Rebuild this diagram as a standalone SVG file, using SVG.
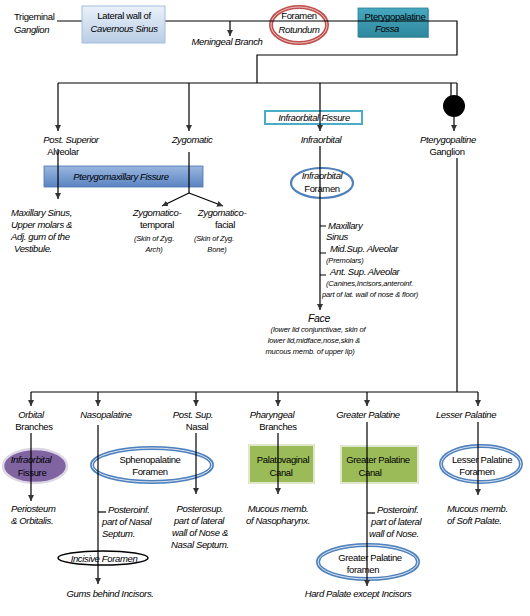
<svg xmlns="http://www.w3.org/2000/svg" width="530" height="616" viewBox="0 0 530 616">
<style>
text{font-family:"Liberation Sans",Arial,sans-serif;font-size:9.5px;letter-spacing:-0.35px;fill:#000;font-style:italic}
.n{font-style:normal}
.s{font-size:7.5px;letter-spacing:-0.15px}
.f{font-size:10.5px}
.c{text-anchor:middle}
.ln{stroke:#000;stroke-width:1.2;fill:none}
.ar{marker-end:url(#ah)}
.be{fill:#fff;stroke:#4f81bd;stroke-width:4}
.bi{fill:none;stroke:#fff;stroke-width:0.8}
.gb{fill:#9bbb59;stroke:#dfe8cc;stroke-width:2}
</style>
<defs>
<marker id="ah" viewBox="0 0 6 6" markerWidth="6" markerHeight="6" markerUnits="userSpaceOnUse" refX="6" refY="3" orient="auto">
<path d="M0,0 L6,3 L0,6 z" fill="#333"/>
</marker>
<linearGradient id="lb" x1="0" y1="0" x2="0" y2="1"><stop offset="0" stop-color="#eaf1fa"/><stop offset="1" stop-color="#b9cde5"/></linearGradient>
<linearGradient id="tl" x1="0" y1="0" x2="0" y2="1"><stop offset="0" stop-color="#46a8bf"/><stop offset="1" stop-color="#2f889e"/></linearGradient>
<linearGradient id="pb" x1="0" y1="0" x2="0" y2="1"><stop offset="0" stop-color="#9ab6df"/><stop offset="1" stop-color="#5a84c2"/></linearGradient>
</defs>

<g id="trigeminal">
<text x="14" y="20" class="n">Trigeminal</text>
<text x="14" y="33">Ganglion</text>
</g>
<g id="foramen-rotundum">
<ellipse cx="299" cy="25" rx="28" ry="18" fill="#fff" stroke="#c0504d" stroke-width="4"/>
<ellipse cx="299" cy="25" rx="28" ry="18" fill="none" stroke="#f2dcdb" stroke-width="0.8"/>
<text x="299" y="19" class="c n">Foramen</text>
<text x="299" y="33" class="c">Rotundum</text>
</g>
<g id="pterygopalatine-fossa">
<rect x="359" y="9" width="70" height="29" fill="#1f6475" opacity="0.5"/>
<rect x="358" y="8" width="70" height="29" fill="url(#tl)" stroke="#2a7f93" stroke-width="0.8"/>
<text x="395" y="20" class="c n">Pterygopalatine</text>
<text x="387" y="32" class="c">Fossa</text>
</g>
<g id="meningeal">
<text x="227" y="45" class="c">Meningeal Branch</text>
</g>
<g id="post-sup-alveolar">
<text x="71" y="143" class="c">Post. Superior</text>
<text x="63" y="155" class="c n">Alveolar</text>
</g>
<g id="pterygomaxillary-fissure">
<rect x="44" y="166" width="159" height="21" fill="url(#pb)" stroke="#4a74b0" stroke-width="0.8"/>
<text x="121" y="180" class="c">Pterygomaxillary Fissure</text>
</g>
<g id="maxillary-sinus">
<text x="11" y="216">Maxillary Sinus,</text>
<text x="11" y="228">Upper molars &amp;</text>
<text x="11" y="240">Adj. gum of the</text>
<text x="14" y="252">Vestibule.</text>
</g>
<g id="zygomatic">
<text x="192" y="143" class="c">Zygomatic</text>
</g>
<g id="zygomatico-temporal">
<text x="157" y="216" class="c">Zygomatico-</text>
<text x="157" y="228" class="c n">temporal</text>
<text x="154" y="241" class="c s">(Skin of Zyg.</text>
<text x="154" y="252" class="c s">Arch)</text>
</g>
<g id="zygomatico-facial">
<text x="222" y="216" class="c">Zygomatico-</text>
<text x="225" y="228" class="c n">facial</text>
<text x="214" y="241" class="c s">(Skin of Zyg.</text>
<text x="217" y="252" class="c s">Bone)</text>
</g>
<g id="infraorbital-fissure-top">
<rect x="265" y="111" width="97" height="13" fill="#fff" stroke="#4bacc6" stroke-width="2"/>
<text x="314" y="120.5" class="c">Infraorbital  Fissure</text>
</g>
<g id="infraorbital">
<text x="321" y="143" class="c">Infraorbital</text>
</g>
<g id="infraorbital-foramen">
<ellipse cx="322" cy="183" rx="31" ry="15" fill="#fff" stroke="#4f81bd" stroke-width="2.2"/>
<text x="322" y="179" class="c">Infraorbital</text>
<text x="322" y="192" class="c n">Foramen</text>
</g>
<g id="infraorbital-branches">
<text x="328" y="229">Maxillary</text>
<text x="326" y="240">Sinus</text>
<text x="330" y="252">Mid.Sup. Alveolar</text>
<text x="326" y="263" class="s">(Premolars)</text>
<text x="330" y="275">Ant. Sup. Alveolar</text>
<text x="326" y="286" class="s">(Canines,Incisors,anteroinf.</text>
<text x="322" y="297" class="s">part of lat. wall of nose &amp; floor)</text>
</g>
<g id="face">
<text x="319" y="322" class="c f">Face</text>
<text x="318" y="332" class="c s">(lower lid conjunctivae, skin of</text>
<text x="314" y="343" class="c s">lower lid,midface,nose,skin &amp;</text>
<text x="310" y="354" class="c s">mucous memb. of upper lip)</text>
</g>
<g id="pterygopalatine-ganglion">
<circle cx="454" cy="106" r="11" fill="#000"/>
<text x="448" y="143" class="c">Pterygopaltine</text>
<text x="447" y="155" class="c n">Ganglion</text>
</g>

<g id="orbital-branches">
<text x="31" y="418" class="c">Orbital</text>
<text x="34" y="430" class="c n">Branches</text>
</g>
<g id="infraorbital-fissure-purple">
<ellipse cx="35" cy="466" rx="32" ry="17" fill="#8064a2" stroke="#dcd6e5" stroke-width="2.5"/>
<text x="31" y="463" class="c">Infraorbital</text>
<text x="32" y="476" class="c n">Fissure</text>
</g>
<g id="periosteum">
<text x="11" y="512">Periosteum</text>
<text x="11" y="524">&amp; Orbitalis.</text>
</g>
<g id="nasopalatine">
<text x="106" y="418" class="c">Nasopalatine</text>
</g>
<g id="sphenopalatine-foramen">
<ellipse cx="152" cy="465" rx="60" ry="17" class="be"/>
<ellipse cx="152" cy="465" rx="60" ry="17" class="bi"/>
<text x="150" y="463" class="c n">Sphenopalatine</text>
<text x="150" y="475" class="c n">Foramen</text>
</g>
<g id="nasal-septum">
<text x="108" y="513">Posteroinf.</text>
<text x="102" y="525">part of Nasal</text>
<text x="102" y="537">Septum.</text>
</g>
<g id="incisive-foramen">
<ellipse cx="103" cy="558" rx="45" ry="7" fill="#fff" stroke="#000" stroke-width="1.5"/>
<text x="104" y="562" class="c">Incisive Foramen</text>
</g>
<g id="gums">
<text x="110" y="597" class="c">Gums behind Incisors.</text>
</g>
<g id="post-sup-nasal">
<text x="193" y="418" class="c">Post. Sup.</text>
<text x="197" y="430" class="c n">Nasal</text>
</g>
<g id="posterosup">
<text x="200" y="512" class="c">Posterosup.</text>
<text x="199" y="524" class="c">part of lateral</text>
<text x="200" y="536" class="c">wall of Nose &amp;</text>
<text x="200" y="548" class="c">Nasal Septum.</text>
</g>
<g id="pharyngeal">
<text x="272" y="418" class="c">Pharyngeal</text>
<text x="278" y="430" class="c n">Branches</text>
</g>
<g id="palatovaginal-canal">
<rect x="249" y="445" width="65" height="38" class="gb"/>
<text x="283" y="463" class="c n">Palatovaginal</text>
<text x="281" y="476" class="c n">Canal</text>
</g>
<g id="nasopharynx">
<text x="278" y="512" class="c">Mucous memb.</text>
<text x="278" y="524" class="c">of Nasopharynx.</text>
</g>
<g id="greater-palatine">
<text x="368" y="418" class="c">Greater Palatine</text>
</g>
<g id="greater-palatine-canal">
<rect x="341" y="446" width="77" height="37" class="gb"/>
<text x="378" y="463" class="c n">Greater Palatine</text>
<text x="370" y="476" class="c n">Canal</text>
</g>
<g id="lateral-wall-nose">
<text x="377" y="513">Posteroinf.</text>
<text x="371" y="525">part of lateral</text>
<text x="369" y="537">wall of Nose.</text>
</g>
<g id="greater-palatine-foramen">
<ellipse cx="368" cy="562" rx="50" ry="17" class="be"/>
<ellipse cx="368" cy="562" rx="50" ry="17" class="bi"/>
<text x="370" y="561" class="c n">Greater  Palatine</text>
<text x="363" y="573" class="c n">foramen</text>
</g>
<g id="hard-palate">
<text x="358" y="597" class="c">Hard Palate except Incisors</text>
</g>
<g id="lesser-palatine">
<text x="466" y="418" class="c">Lesser Palatine</text>
</g>
<g id="lesser-palatine-foramen">
<ellipse cx="481" cy="464" rx="40" ry="18" class="be"/>
<ellipse cx="481" cy="464" rx="40" ry="18" class="bi"/>
<text x="482" y="463" class="c n">Lesser Palatine</text>
<text x="477" y="475" class="c n">Foramen</text>
</g>
<g id="soft-palate">
<text x="447" y="512">Mucous memb.</text>
<text x="447" y="524">of Soft Palate.</text>
</g>

<g id="connectors">
<path class="ln" d="M57,21 H457 V55 H257 V83"/>
<path class="ln ar" d="M230,21 V36"/>
<path class="ln" d="M58,83 H457"/>
<path class="ln ar" d="M58,83 V131"/>
<path class="ln ar" d="M189,83 V131"/>
<path class="ln ar" d="M320,83 V131"/>
<path class="ln" d="M451,83 V96 M457,83 V96"/>
<path class="ln ar" d="M454,117 V131"/>
<path class="ln ar" d="M58,149 V199"/>
<path class="ln" d="M189,152 V193"/>
<path class="ln ar" d="M189,193 L162,206"/>
<path class="ln ar" d="M189,193 L223,206"/>
<path class="ln ar" d="M320,146 V310"/>
<path class="ln" d="M320,226 H326 M320,253 H326 M320,275 H326"/>
<path class="ln" d="M457,158 V392"/>
<path class="ln" d="M31,392 H478"/>
<path class="ln ar" d="M31,392 V406"/>
<path class="ln ar" d="M98,392 V406"/>
<path class="ln ar" d="M196,392 V406"/>
<path class="ln ar" d="M278,392 V406"/>
<path class="ln ar" d="M367,392 V406"/>
<path class="ln ar" d="M478,392 V406"/>
<path class="ln ar" d="M31,433 V501"/>
<path class="ln ar" d="M98,425 V584"/>
<path class="ln" d="M98,512 H106"/>
<path class="ln ar" d="M196,433 V494"/>
<path class="ln ar" d="M278,433 V494"/>
<path class="ln ar" d="M367,422 V586"/>
<path class="ln" d="M367,513 H375"/>
<path class="ln ar" d="M478,422 V495"/>
</g>

<g id="lateral-wall-cavernous-sinus">
<rect x="82" y="6" width="83" height="37" fill="url(#lb)" stroke="#a3bde0" stroke-width="1"/>
<text x="124" y="19" class="c n">Lateral wall of</text>
<text x="124" y="32" class="c">Cavernous Sinus</text>
</g>
</svg>
